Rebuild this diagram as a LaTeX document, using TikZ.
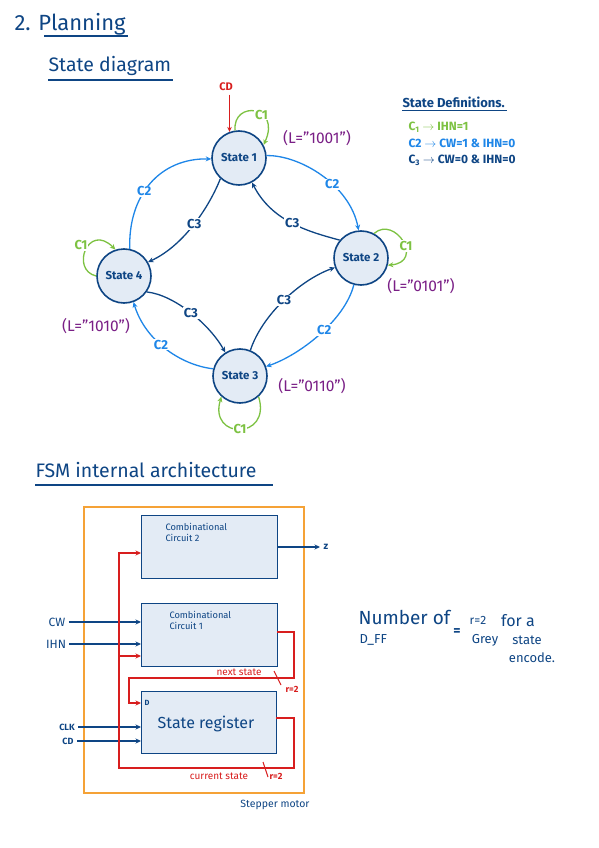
\documentclass[tikz,border=0pt]{standalone}
\usepackage{fontspec}
\setmainfont{Fira Sans}
\usetikzlibrary{arrows.meta,calc}
\definecolor{navy}{HTML}{0E4584}
\definecolor{cblue}{HTML}{1E86E8}
\definecolor{cgreen}{HTML}{7DC242}
\definecolor{cred}{HTML}{D81E1E}
\definecolor{cpurple}{HTML}{7A1F86}
\definecolor{corange}{HTML}{F5A236}
\definecolor{stfill}{HTML}{E3EBF5}
\tikzset{
  st/.style={circle, draw=navy, line width=1.6pt, fill=stfill, minimum size=54pt, inner sep=0pt,
    font=\fontsize{11.5}{12}\selectfont\bfseries, text=navy},
  tip/.style={-{Stealth[length=5.5pt,width=5pt]}},
  ctwo/.style={draw=cblue, line width=1.3pt, tip},
  cthree/.style={draw=navy, line width=1.3pt, tip},
  cone/.style={draw=cgreen, line width=1.3pt, tip},
  lbltwo/.style={fill=white, inner sep=1pt, text=cblue, font=\fontsize{13}{14}\selectfont\bfseries},
  lblthree/.style={fill=white, inner sep=1pt, text=navy, font=\fontsize{13}{14}\selectfont\bfseries},
  lblone/.style={fill=white, inner sep=1pt, text=cgreen, font=\fontsize{13}{14}\selectfont\bfseries},
  lval/.style={text=cpurple, font=\fontsize{15.5}{16}\selectfont},
  blk/.style={draw=navy, line width=1.3pt, fill=stfill, anchor=north west, inner sep=0pt},
  blktext/.style={anchor=north west, align=left, text=navy, font=\fontsize{9.3}{11}\selectfont},
  nw/.style={draw=navy, line width=1.1pt, -{Stealth[length=5.5pt,width=5pt]}},
  rwa/.style={draw=cred, line width=1.2pt, -{Stealth[length=5.5pt,width=5pt]}},
  sig/.style={text=navy, font=\fontsize{12}{13}\selectfont},
  rlab/.style={text=cred, font=\fontsize{10}{11}\selectfont},
  hd/.style={text=navy},
}
\begin{document}
\begin{tikzpicture}[x=1pt,y=-1pt]
\useasboundingbox[fill=white] (0,0) rectangle (599,848);

% ---------- titles
\node[hd, anchor=west, font=\fontsize{22}{24}\selectfont] (t1) at (11,24) {2. Planning};
\draw[navy, line width=1.1pt] (44,36) -- (128,36);
\node[hd, anchor=west, font=\fontsize{19.5}{21}\selectfont] (t2) at (45,66) {State diagram};
\draw[navy, line width=1.1pt] (48,80) -- (173,80);

% ---------- state definitions
\node[hd, anchor=west, font=\fontsize{13}{14}\selectfont\bfseries] (sdef) at (399,102) {State Definitions.};
\draw[navy, line width=1pt] (402,111) -- (507,111);
\node[anchor=west, text=cgreen, font=\fontsize{12}{13}\selectfont\bfseries] (d1) at (405,127) {C\textsubscript{1} $\rightarrow$ IHN=1};
\node[anchor=west, text=cblue, font=\fontsize{12}{13}\selectfont\bfseries] (d2) at (405,143.5) {C2 $\rightarrow$ CW=1 \& IHN=0};
\node[anchor=west, text=navy, font=\fontsize{12}{13}\selectfont\bfseries] (d3) at (405,160) {C\textsubscript{3} $\rightarrow$ CW=0 \& IHN=0};

% ---------- states
\node[st] (s1) at (239,158) {State 1};
\node[st] (s2) at (361,258) {State 2};
\node[st] (s3) at (240,376) {State 3};
\node[st] (s4) at (124,276) {State 4};

% CD into state 1
\node[text=cred, font=\fontsize{11}{12}\selectfont\bfseries] (cd) at (226,87) {CD};
\draw[draw=cred, line width=1.3pt, -{Stealth[length=5pt,width=4.5pt]}] (cd.south -| s1.110) -- (s1.110);

% C2 outer ring
\draw[ctwo] (s4.78) .. controls (128,195) and (160,158) .. node[lbltwo, pos=.42] {C2} (s1.182);
\draw[ctwo] (s1.5) .. controls (300,155) and (350,185) .. node[lbltwo, pos=.6] {C2} (s2.95);
\draw[ctwo] (s2.255) .. controls (345,320) and (300,355) .. node[lbltwo, pos=.45] {C2} (s3.20);
\draw[ctwo] (s3.165) .. controls (180,365) and (145,340) .. node[lbltwo, pos=.55] {C2} (s4.290);

% C3 inner
\draw[cthree] (s1.228) .. controls (210,205) and (185,245) .. node[lblthree, pos=.5] {C3} (s4.30);
\draw[cthree] (s2.140) .. controls (310,232) and (272,222) .. node[lblthree, pos=.5] {C3} (s1.-62);
\draw[cthree] (s3.68) .. controls (262,315) and (300,280) .. node[lblthree, pos=.5] {C3} (s2.200);
\draw[cthree] (s4.-35) .. controls (175,295) and (210,325) .. node[lblthree, pos=.5] {C3} (s3.122);

% C1 self loops
\draw[cone] (s1.98) .. controls (232,100) and (282,105) .. node[lblone, pos=.62] {C1} (s1.28);
\draw[cone] (s4.180) .. controls (70,270) and (88,222) .. (s4.108);
\node[lblone] (c1s4) at (81,245) {C1};
\draw[cone] (s2.62) .. controls (395,215) and (425,262) .. (s2.-15);
\node[lblone] (c1s2) at (406,246) {C1};
\draw[cone] (s3.-48) .. controls (272,440) and (208,440) .. node[lblone, pos=.5] {C1} (s3.228);

% output values
\node[lval] (l1) at (317,138) {(L="1001")};
\node[lval] (l2) at (421,286) {(L="0101")};
\node[lval] (l3) at (312,386) {(L="0110")};
\node[lval] (l4) at (96,326) {(L="1010")};

% ---------- FSM architecture
\node[hd, anchor=west, font=\fontsize{19.5}{21}\selectfont] (t3) at (32,470) {FSM internal architecture};
\draw[navy, line width=1.1pt] (35,485) -- (273,485);

\draw[corange, line width=1.4pt] (84,507) rectangle (304,793);

\node[blk, minimum width=136pt, minimum height=63pt] (cc2) at (141,515) {};
\node[blktext] (cc2t) at (162,520) {Combinational\\Circuit 2};
\node[blk, minimum width=136pt, minimum height=63pt] (cc1) at (141,603) {};
\node[blktext] (cc1t) at (166,608) {Combinational\\Circuit 1};
\node[blk, minimum width=135pt, minimum height=62pt] (sr) at (141,691) {};
\node[text=navy, font=\fontsize{16}{18}\selectfont] (srt) at (206,724) {State register};
\node[text=navy, font=\fontsize{7.5}{8}\selectfont\bfseries] (dlab) at (147,703) {D};

% output z
\node[sig, anchor=west, font=\fontsize{10}{11}\selectfont\bfseries] (z) at (320,547) {z};
\draw[nw] (cc2.east |- z) -- (z.west);

% inputs
\node[sig] (cw) at (57,622) {CW};
\node[sig] (ihn) at (56,644) {IHN};
\node[text=navy, font=\fontsize{9}{10}\selectfont\bfseries] (clk) at (67,727) {CLK};
\node[text=navy, font=\fontsize{9}{10}\selectfont\bfseries] (cd2) at (68,741) {CD};
\draw[nw] (cw.east) -- (cw.east -| cc1.west);
\draw[nw] (ihn.east) -- (ihn.east -| cc1.west);
\draw[nw] (clk.east) -- (clk.east -| sr.west);
\draw[nw] (cd2.east) -- (cd2.east -| sr.west);

% next state wire
\coordinate (ns0) at (277,632);
\coordinate (ns1) at (294,632);
\coordinate (ns2) at (294,678);
\coordinate (ns3) at (129,678);
\coordinate (ns4) at (129,703);
\draw[rwa] (ns0) -- (ns1) -- (ns2) -- (ns3) -- (ns4) -- (ns4 -| sr.west);
\draw[cred, line width=1pt] (274,671) -- (281,685);
\node[rlab] (nsl) at (239,672) {next state};
\node[rlab, font=\fontsize{9}{10}\selectfont\bfseries] (r1) at (292,689) {r=2};

% current state wire
\coordinate (cs0) at (276,718);
\coordinate (cs1) at (294,718);
\coordinate (cs2) at (294,768);
\coordinate (cs3) at (119,768);
\coordinate (cs4) at (119,553);
\coordinate (cs5) at (119,656);
\draw[rwa] (cs0) -- (cs1) -- (cs2) -- (cs3) -- (cs4) -- (cs4 -| cc2.west);
\draw[rwa] (cs5) -- (cs5 -| cc1.west);
\draw[cred, line width=1pt] (263,762) -- (268,777);
\node[rlab] (csl) at (219,776) {current state};
\node[rlab, font=\fontsize{9}{10}\selectfont\bfseries] (r2) at (276,776) {r=2};

\node[text=navy, font=\fontsize{10.5}{12}\selectfont] (sm) at (275,805) {Stepper motor};

% ---------- D_FF note
\node[hd, anchor=west, font=\fontsize{19}{21}\selectfont] (n1) at (355,617) {Number of};
\node[hd, anchor=west, font=\fontsize{13}{14}\selectfont] (n2) at (356,640) {D\_FF};
\node[hd, font=\fontsize{14}{15}\selectfont\bfseries] (n3) at (457,632) {=};
\node[hd, font=\fontsize{12}{13}\selectfont] (n4) at (478,620) {r=2};
\node[hd, font=\fontsize{16}{17}\selectfont] (n5) at (518,621) {for a};
\node[hd, font=\fontsize{13}{14}\selectfont] (n6) at (485,640) {Grey};
\node[hd, font=\fontsize{13}{14}\selectfont] (n7) at (527,640) {state};
\node[hd, font=\fontsize{13}{14}\selectfont] (n8) at (532,658) {encode.};
\end{tikzpicture}
\end{document}
